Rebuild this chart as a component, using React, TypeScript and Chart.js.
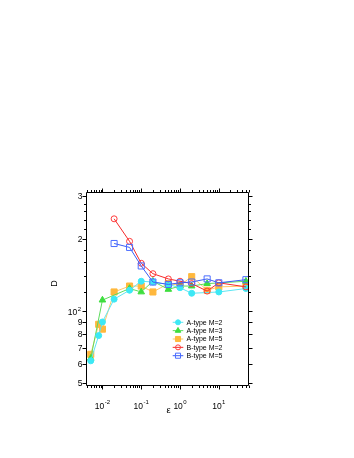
import React, { useEffect, useRef } from 'react';
import { Chart, registerables } from 'chart.js';

Chart.register(...registerables);

// ---- data ----
const seriesLabels = ['A-type M=2', 'A-type M=3', 'A-type M=5', 'B-type M=2', 'B-type M=5'];

const epsA2 = [0.005, 0.008, 0.01, 0.02, 0.05, 0.1, 0.2, 0.5, 1, 2, 10, 50];
const dA2 = [62, 79, 90, 112, 122, 133, 132, 129, 125, 118.5, 120, 124];

const epsA3 = [0.005, 0.01, 0.05, 0.1, 0.2, 0.5, 1, 2, 5, 50];
const dA3 = [63.5, 111, 124, 120, 133, 123, 127, 127, 130, 133];

const epsA5 = [0.005, 0.008, 0.01, 0.02, 0.05, 0.1, 0.2, 0.5, 1, 2, 5, 10, 50];
const dA5 = [66, 88, 84, 120, 127, 127, 120, 130, 128, 139, 122, 126, 127];

const epsB2 = [0.02, 0.05, 0.1, 0.2, 0.5, 1, 2, 5, 10, 50];
const dB2 = [242, 195, 158, 143, 136, 133, 130, 121, 131, 126];

const epsB5 = [0.02, 0.05, 0.1, 0.2, 0.5, 1, 2, 5, 10, 50];
const dB5 = [191, 184, 154, 132, 129, 131, 132, 136, 131, 135];

const xDecadeExponents = ['-2', '-1', '0', '1'];
const yMajorTicks = [50, 60, 70, 80, 90, 100, 200, 300];
const yMajorLabels = ['5', '6', '7', '8', '9', '10^2', '2', '3'];
const yMinorTicks = [120, 140, 160, 180, 220, 240, 260, 280];

const xTitle = 'ε';
const yTitle = 'D';

const pts = (xs: number[], ys: number[]) => xs.map((x, i) => ({ x, y: ys[i] }));

const FONT = '"Liberation Sans", Arial, Helvetica, sans-serif';

function drawMarker(ctx: CanvasRenderingContext2D, style: string, x: number, y: number, r: number, fill: string | null, stroke: string) {
  ctx.beginPath();
  if (style === 'circle') {
    ctx.arc(x, y, r, 0, Math.PI * 2);
  } else if (style === 'rect') {
    const s = r * Math.SQRT1_2;
    ctx.rect(x - s, y - s, 2 * s, 2 * s);
  } else if (style === 'triangle') {
    ctx.moveTo(x, y - r);
    ctx.lineTo(x + r * 0.866, y + r * 0.5);
    ctx.lineTo(x - r * 0.866, y + r * 0.5);
    ctx.closePath();
  }
  if (fill) {
    ctx.fillStyle = fill;
    ctx.fill();
  }
  ctx.strokeStyle = stroke;
  ctx.lineWidth = 1;
  ctx.stroke();
}

function drawPow(ctx: CanvasRenderingContext2D, base: string, exp: string, x: number, baseline: number, align: 'center' | 'right') {
  ctx.font = `8.5px ${FONT}`;
  const wb = ctx.measureText(base).width;
  ctx.font = `6px ${FONT}`;
  const we = ctx.measureText(exp).width;
  const total = wb + we + 0.5;
  const start = align === 'center' ? x - total / 2 : x - total;
  ctx.textAlign = 'left';
  ctx.textBaseline = 'alphabetic';
  ctx.font = `8.5px ${FONT}`;
  ctx.fillText(base, start, baseline);
  ctx.font = `6px ${FONT}`;
  ctx.fillText(exp, start + wb + 0.5, baseline - 4.5);
}

const axesPlugin = {
  id: 'idlAxes',
  afterDraw(chart: any) {
    const ctx: CanvasRenderingContext2D = chart.ctx;
    const a = chart.chartArea;
    const xs = chart.scales.x;
    const ys = chart.scales.y;
    ctx.save();
    ctx.strokeStyle = '#000';
    ctx.fillStyle = '#000';
    ctx.lineWidth = 1;
    const L = Math.round(a.left) - 0.5;
    const R = Math.round(a.right) - 0.5;
    const T = Math.round(a.top) - 0.5;
    const B = Math.round(a.bottom) - 0.5;
    ctx.beginPath();
    ctx.rect(L, T, R - L, B - T);
    ctx.stroke();

    // x ticks
    ctx.beginPath();
    for (let d = -3; d <= 2; d++) {
      for (let k = 1; k <= 9; k++) {
        const v = k * Math.pow(10, d);
        if (v < xs.min || v > xs.max) continue;
        const px = Math.round(xs.getPixelForValue(v)) + 0.5;
        const len = k === 1 ? 4 : 2.5;
        ctx.moveTo(px, B);
        ctx.lineTo(px, B + len);
        ctx.moveTo(px, T);
        ctx.lineTo(px, T - len);
      }
    }
    // y ticks
    const yTicks = [...yMajorTicks.map((v) => [v, 4]), ...yMinorTicks.map((v) => [v, 2.5])];
    for (const [v, len] of yTicks) {
      const py = Math.round(ys.getPixelForValue(v)) + 0.5;
      ctx.moveTo(L, py);
      ctx.lineTo(L - len, py);
      ctx.moveTo(R, py);
      ctx.lineTo(R + len, py);
    }
    ctx.stroke();

    // x labels
    xDecadeExponents.forEach((e) => {
      const v = Math.pow(10, parseFloat(e));
      const px = xs.getPixelForValue(v);
      drawPow(ctx, '10', e, px, a.bottom + 22.5, 'center');
    });

    // y labels
    yMajorTicks.forEach((v, i) => {
      const lab = yMajorLabels[i];
      const py = ys.getPixelForValue(v);
      if (lab.includes('^')) {
        const [b, e] = lab.split('^');
        drawPow(ctx, b, e, a.left - 6, py + 4.5, 'right');
      } else {
        ctx.font = `8.5px ${FONT}`;
        ctx.textAlign = 'right';
        ctx.textBaseline = 'middle';
        ctx.fillText(lab, a.left - 4.5, py + 0.5);
      }
    });

    // titles
    ctx.font = `9.5px ${FONT}`;
    ctx.textAlign = 'center';
    ctx.textBaseline = 'middle';
    ctx.fillText(xTitle, (a.left + a.right) / 2 + 0.5, a.bottom + 24.5);
    ctx.save();
    ctx.translate(a.left - 32, (a.top + a.bottom) / 2 - 6);
    ctx.rotate(-Math.PI / 2);
    ctx.font = `9px ${FONT}`;
    ctx.fillText(yTitle, 0, 0);
    ctx.restore();

    // legend (in reference order)
    seriesLabels.forEach((label, i) => {
      const ds = chart.data.datasets.find((d: any) => d.label === label);
      if (!ds) return;
      const ry = a.top + 129.3 + i * 8.35;
      const x0 = a.left + 85.7;
      const x1 = a.left + 96.3;
      ctx.strokeStyle = ds.borderColor;
      ctx.lineWidth = 1;
      ctx.beginPath();
      ctx.moveTo(x0, ry);
      ctx.lineTo(x1, ry);
      ctx.stroke();
      const filled = ds.pointBackgroundColor !== 'rgba(0,0,0,0)';
      const r = ds.pointStyle === 'rect' ? 3.6 : ds.pointStyle === 'triangle' ? 3.2 : 2.5;
      drawMarker(ctx, ds.pointStyle, (x0 + x1) / 2, ry, r, filled ? ds.pointBackgroundColor : null, ds.pointBorderColor);
      ctx.fillStyle = '#000';
      ctx.font = `7px ${FONT}`;
      ctx.textAlign = 'left';
      ctx.textBaseline = 'middle';
      ctx.fillText(ds.label, a.left + 99.5, ry + 0.5);
    });
    ctx.restore();
  },
};

export default function App() {
  const ref = useRef<HTMLCanvasElement | null>(null);
  useEffect(() => {
    if (!ref.current) return;
    const mk = (label: string, data: any[], color: string, lineColor: string, style: string, filled: boolean, r: number) => ({
      label,
      data,
      borderColor: lineColor,
      backgroundColor: color,
      borderWidth: 1,
      pointStyle: style,
      pointRadius: r,
      pointBorderWidth: 1,
      pointBackgroundColor: filled ? color : 'rgba(0,0,0,0)',
      pointBorderColor: color,
      fill: false,
      tension: 0,
    });
    const chart = new Chart(ref.current, {
      type: 'line',
      data: {
        datasets: [
          mk(seriesLabels[4], pts(epsB5, dB5), '#4a6cff', '#3a5cf5', 'rect', false, 4.3),
          mk(seriesLabels[3], pts(epsB2, dB2), '#ff3b3b', '#f52a2a', 'circle', false, 3),
          mk(seriesLabels[0], pts(epsA2, dA2), '#3de8f5', '#5de6f2', 'circle', true, 3),
          mk(seriesLabels[1], pts(epsA3, dA3), '#3ede3e', '#5edc5e', 'triangle', true, 3.8),
          mk(seriesLabels[2], pts(epsA5, dA5), '#ffb83d', '#ffc865', 'rect', true, 4.3),
        ],
      },
      options: {
        animation: false,
        responsive: false,
        maintainAspectRatio: false,
        layout: { padding: { left: 87, top: 193, right: 105, bottom: 72 } },
        scales: {
          x: { type: 'logarithmic', min: 0.004, max: 60, display: false },
          y: { type: 'logarithmic', min: 48.7, max: 310, display: false },
        },
        plugins: {
          legend: { display: false },
          tooltip: { enabled: false },
        },
      },
      plugins: [axesPlugin],
    });
    return () => chart.destroy();
  }, []);
  return (
    <div style={{ position: 'fixed', left: 0, top: 0, width: 354, height: 458, background: '#fff' }}>
      <canvas ref={ref} width={354} height={458} style={{ width: 354, height: 458 }} />
    </div>
  );
}
